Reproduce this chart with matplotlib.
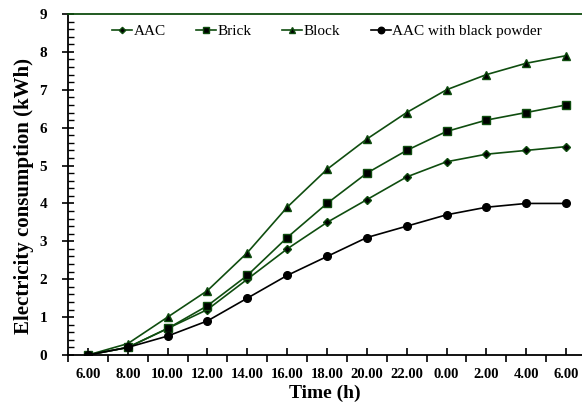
import matplotlib.pyplot as plt
import numpy as np
from matplotlib.ticker import MultipleLocator, FixedLocator

#====Data====
hours = ['6.00', '8.00', '10.00', '12.00', '14.00', '16.00', '18.00',
         '20.00', '22.00', '0.00', '2.00', '4.00', '6.00']
aac = [0, 0.2, 0.7, 1.2, 2.0, 2.8, 3.5, 4.1, 4.7, 5.1, 5.3, 5.4, 5.5]
brick = [0, 0.2, 0.7, 1.3, 2.1, 3.1, 4.0, 4.8, 5.4, 5.9, 6.2, 6.4, 6.6]
block = [0, 0.3, 1.0, 1.7, 2.7, 3.9, 4.9, 5.7, 6.4, 7.0, 7.4, 7.7, 7.9]
aac_black = [0, 0.2, 0.5, 0.9, 1.5, 2.1, 2.6, 3.1, 3.4, 3.7, 3.9, 4.0, 4.0]

plt.rcParams['font.family'] = 'Liberation Serif'
green = '#0f4d0f'

fig = plt.figure(figsize=(5.82, 4.07), dpi=100)
ax = fig.add_axes([68/582, 1-355/407, (586-68)/582, (355-14)/407])

x = np.arange(len(hours))
ax.plot(x, aac, color=green, marker='D', ms=3.8, mfc='black', lw=1.2, label='AAC')
ax.plot(x, brick, color=green, marker='s', ms=5.3, mfc='black', lw=1.2, label='Brick')
ax.plot(x, block, color=green, marker='^', ms=5.8, mfc='black', lw=1.2, label='Block')
ax.plot(x, aac_black, color='black', marker='o', ms=5.5, lw=1.2, label='AAC with black powder')

#====Axes====
ax.set_xlim(-0.5, len(hours)-0.5)
ax.set_ylim(0, 9)
ax.xaxis.set_major_locator(FixedLocator(np.arange(-0.5, len(hours), 1)))
ax.set_xticklabels([])
ax.set_xticks(x, minor=True)
ax.set_xticklabels(hours, minor=True, fontweight='bold', fontsize=10.5)
ax.tick_params(axis='x', which='major', direction='out', length=5, width=1.2)
ax.tick_params(axis='x', which='minor', direction='in', length=5, width=1.2, pad=9)

ax.yaxis.set_major_locator(MultipleLocator(1))
ax.yaxis.set_minor_locator(MultipleLocator(0.2))
ax.tick_params(axis='y', which='major', direction='inout', length=8, width=1.2,
               labelsize=11, pad=11)
ax.tick_params(axis='y', which='minor', direction='in', length=4, width=1)
for lab in ax.get_yticklabels():
    lab.set_fontweight('bold')

ax.spines['left'].set_linewidth(1.3)
ax.spines['bottom'].set_linewidth(1.3)
ax.spines['top'].set_color(green)
ax.spines['top'].set_linewidth(1.3)
ax.spines['right'].set_visible(False)

ax.set_xlabel('Time (h)', fontsize=14, fontweight='bold')
ax.xaxis.set_label_coords((325-68)/518, -(385-355)/341)
ax.set_ylabel('Electricity consumption (kWh)', fontsize=15, fontweight='bold')
ax.yaxis.set_label_coords(-(68-34)/518, (355-196)/341)

ax.legend(loc='upper center', ncol=4, frameon=False, fontsize=11,
          handlelength=1.3, handletextpad=0.1, columnspacing=2.0,
          borderaxespad=0.3, markerscale=0.85)

plt.savefig('out.png', dpi=100)
